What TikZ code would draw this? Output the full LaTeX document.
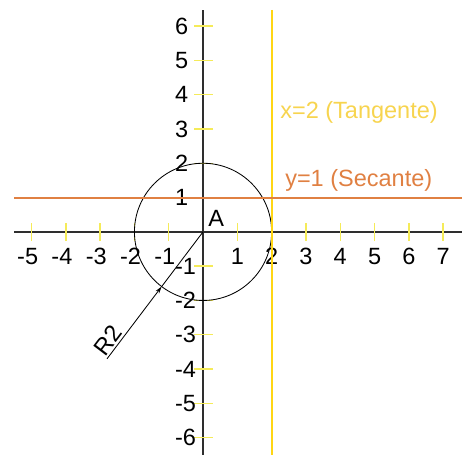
\documentclass[tikz,border=0pt]{standalone}
\usepackage{fontspec}
\setmainfont{Liberation Sans}
\usetikzlibrary{arrows.meta}
\definecolor{tangcol}{rgb}{1,0.84,0.08}
\definecolor{tangtext}{rgb}{0.97,0.83,0.31}
\definecolor{seccol}{rgb}{0.88,0.5,0.26}
\definecolor{tickcol}{rgb}{0.96,0.92,0.35}
\definecolor{axiscol}{rgb}{0.18,0.18,0.18}

\begin{document}
\begin{tikzpicture}[>={Stealth[length=6pt,width=3.5pt]},font=\fontsize{19.5}{22}\selectfont,
        axis/.style={draw=axiscol, line width=1.1pt},
        tickmark/.style={draw=tickcol, line width=1.2pt},
        lbl/.style={inner sep=0pt},
        dim/.style={draw=black, line width=0.7pt}]
        \useasboundingbox (-5.92,-6.50) rectangle (7.55,6.76);
        % axes
        \coordinate (xl) at (-5.51,0);
        \coordinate (xr) at (7.55,0);
        \coordinate (yb) at (0,-6.50);
        \coordinate (yt) at (0,6.47);
        \coordinate (O) at (0,0);
        \draw[axis] (xl) -- (xr);
        \draw[axis] (yb) -- (yt);
        % ticks and numbers
        \foreach \i in {1,...,5}
            \draw[tickmark] (-\i,-0.27) -- (-\i,0.27);
        \foreach \i in {1,...,7}
            \draw[tickmark] (\i,-0.27) -- (\i,0.27);
        \foreach \i in {1,...,6} {
            \draw[tickmark] (-0.25,\i) -- (0.29,\i);
            \draw[tickmark] (-0.25,-\i) -- (0.29,-\i);
        }
        \foreach \i in {1,...,5}
            \node[lbl, anchor=base] (xn\i) at (-\i,-0.94) {\llap{-}\i};
        \foreach \i in {1,...,7}
            \node[lbl, anchor=base] (xp\i) at (\i,-0.94) {\i};
        \foreach \i in {1,...,6} {
            \node[lbl, anchor=west] (yp\i) at (-0.82,\i) {\i};
            \node[lbl, anchor=west] (yn\i) at (-0.82,-\i) {-\i};
        }
        % circle and radius
        \draw[dim] (O) circle (2);
        \node[lbl, anchor=base west] (A) at (0.15,0.155) {A};
        \coordinate (rtip) at (232.9:2);
        \coordinate (rend) at (232.9:4.64);
        \draw[dim, ->] (rend) -- node[pos=0.17, sloped, above, inner sep=1.5pt] (rlbl) {R2} (rtip);
        \draw[dim] (rtip) -- (O);
        % tangent and secant
        \coordinate (tt) at (2,6.47);
        \coordinate (tb) at (2,-6.50);
        \coordinate (sl) at (-5.51,1);
        \coordinate (sr) at (7.55,1);
        \draw[draw=tangcol, line width=1.7pt] (tt) -- (tb);
        \draw[draw=seccol, line width=1.7pt] (sl) -- (sr);
        \node[lbl, anchor=base west, text=tangtext] (tang) at (2.245,3.31) {x=2 (Tangente)};
        \node[lbl, anchor=base west, text=seccol] (sec) at (2.39,1.31) {y=1 (Secante)};
\end{tikzpicture}
\end{document}
